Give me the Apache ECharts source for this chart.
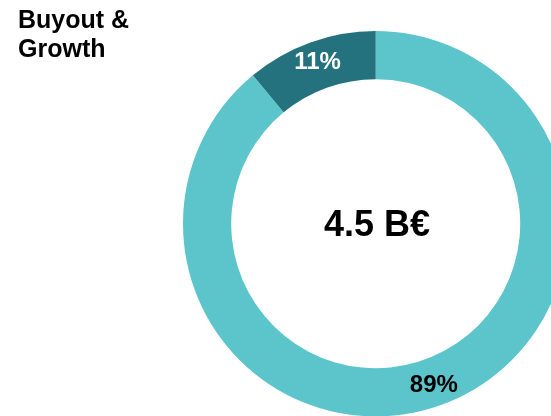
<!DOCTYPE html>
<html>
<head>
<meta charset="utf-8">
<script src="https://cdn.jsdelivr.net/npm/echarts@6/dist/echarts.min.js"></script>
<style>html,body{margin:0;padding:0;background:#fff}#c{width:551px;height:416px}</style>
</head>
<body>
<div id="c"></div>
<script>
const categories = ['Other', 'Buyout & Growth share'];
const values = [89, 11];
const labels = ['89%', '11%'];
const titleText = 'Buyout &\nGrowth';
const centerText = '4.5 B€';

const colors = ['#5BC5CB', '#23727D'];
const labelColors = ['#000000', '#FFFFFF'];

const chart = echarts.init(document.getElementById('c'), null, {renderer: 'canvas'});
chart.setOption({
  animation: false,
  title: [{
    text: titleText,
    left: 13, top: 2,
    textStyle: {fontFamily: 'Liberation Sans', fontWeight: 'bold', fontSize: 25, lineHeight: 29, color: '#000'}
  }, {
    text: centerText,
    left: 372, top: 221,
    textAlign: 'center', textVerticalAlign: 'middle',
    textStyle: {fontFamily: 'Liberation Sans', fontWeight: 'bold', fontSize: 36, color: '#000'}
  }],
  series: [{
    type: 'pie',
    center: [375.7, 223.7],
    radius: [144.5, 192.7],
    startAngle: 90,
    clockwise: true,
    silent: true,
    label: {
      show: true, position: 'inside',
      fontFamily: 'Liberation Sans', fontWeight: 'bold', fontSize: 24,
      formatter: p => labels[p.dataIndex]
    },
    labelLine: {show: false},
    data: values.map((v, i) => ({
      name: categories[i], value: v,
      itemStyle: {color: colors[i]},
      label: {color: labelColors[i]}
    }))
  }]
});
</script>
</body>
</html>
